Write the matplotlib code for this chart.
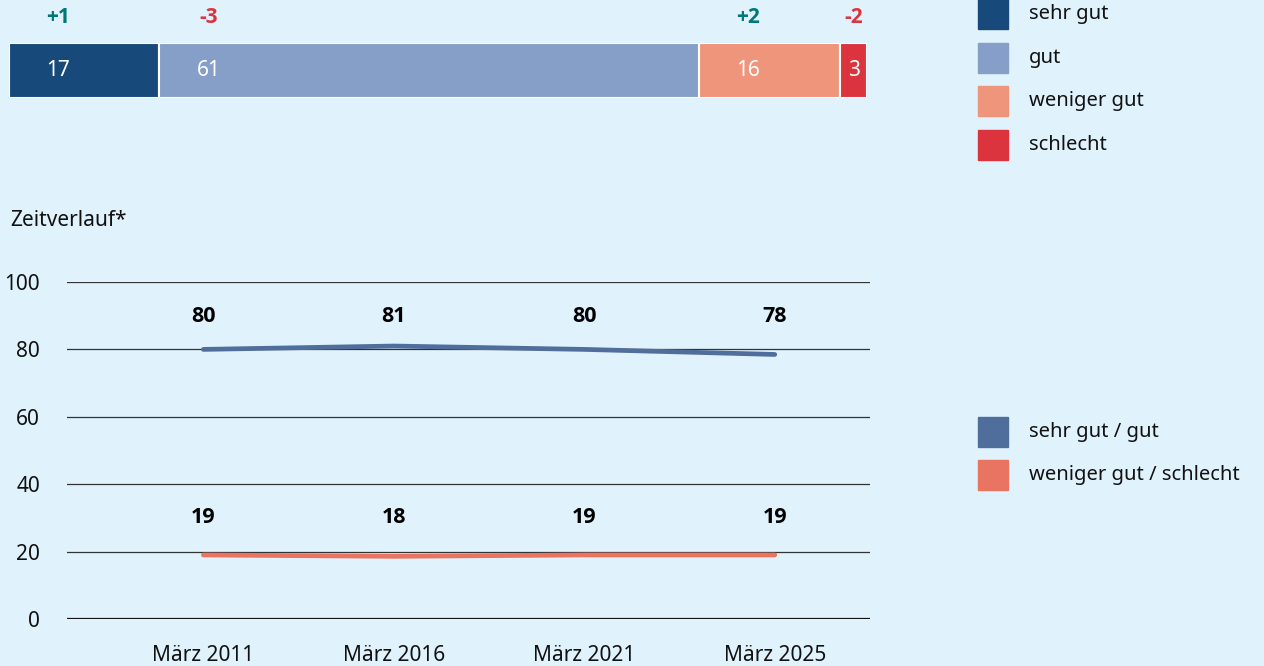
import matplotlib.pyplot as plt
from matplotlib.patches import Rectangle

plt.rcParams['font.family'] = ['Noto Sans', 'DejaVu Sans']
BOLD = ['Open Sans', 'Lato', 'DejaVu Sans']

# Daten
kategorien = ['sehr gut', 'gut', 'weniger gut', 'schlecht']
werte = [17, 61, 16, 3]
veraenderung = ['+1', '-3', '+2', '-2']
farben = ['#174A7A', '#859FC8', '#EE957B', '#DC343E']

jahre = ['März 2011', 'März 2016', 'März 2021', 'März 2025']
gut_gesamt = [80, 81, 80, 78.5]
schlecht_gesamt = [19, 18.6, 19, 19]
gut_labels = ['80', '81', '80', '78']
schlecht_labels = ['19', '18', '19', '19']
linien_namen = ['sehr gut / gut', 'weniger gut / schlecht']
linien_farben = ['#4F6E9B', '#E87461']

bg = '#E0F2FC'
W, H = 1264, 666
fig = plt.figure(figsize=(W / 100, H / 100), dpi=100)
fig.patch.set_facecolor(bg)

def ax_px(x0, y0, x1, y1):
    # Achse in Pixelkoordinaten (oben links = 0,0)
    return fig.add_axes([x0 / W, (H - y1) / H, (x1 - x0) / W, (y1 - y0) / H])

# Gestapelter Balken
ax1 = ax_px(9, 43, 867, 98)
ax1.set_facecolor('none')
links = 0
for wert, farbe, ver in zip(werte, farben, veraenderung):
    ax1.barh(0, wert, left=links, height=1, color=farbe, edgecolor='white', linewidth=1.5)
    pos = links + min(5.6, wert / 2)
    ax1.text(pos, 0, str(wert), color='white', fontsize=15, ha='center', va='center')
    vfarbe = '#00787A' if ver.startswith('+') else '#DC343E'
    ax1.text(pos, 0.96, ver, color=vfarbe, fontsize=15, fontweight='bold', family=BOLD,
             ha='center', va='center', clip_on=False)
    links += wert
ax1.set_xlim(0, sum(werte))
ax1.set_ylim(-0.5, 0.5)
ax1.axis('off')

# Legende oben
for i, (name, farbe) in enumerate(zip(kategorien, farben)):
    y = 14 + i * 43.5
    fig.patches.append(Rectangle((978 / W, (H - y - 15) / H), 30 / W, 30 / H,
                                 transform=fig.transFigure, color=farbe))
    fig.text(1029 / W, (H - y) / H, name, fontsize=14.5, va='center', color='#111111')

fig.text(10 / W, (H - 220) / H, 'Zeitverlauf*', fontsize=15, va='center', color='#111111')

# Liniendiagramm
ax2 = ax_px(67, 282, 870, 619)
ax2.set_facecolor('none')
x = list(range(len(jahre)))
ax2.set_ylim(0, 100)
ax2.set_xlim(-0.716, 3.5)
for yv in [20, 40, 60, 80, 100]:
    ax2.axhline(yv, color='#333333', linewidth=0.9, zorder=1)
ax2.axhline(0, color='#111111', linewidth=1.6, zorder=1)
ax2.plot(x, gut_gesamt, color=linien_farben[0], linewidth=3.4, solid_capstyle='round', zorder=3)
ax2.plot(x, schlecht_gesamt, color=linien_farben[1], linewidth=3.4, solid_capstyle='round', zorder=3)
for xi, gl, sl in zip(x, gut_labels, schlecht_labels):
    ax2.text(xi, 89.8, gl, fontsize=15.5, fontweight='bold', family=BOLD, ha='center', va='center')
    ax2.text(xi, 30.2, sl, fontsize=15.5, fontweight='bold', family=BOLD, ha='center', va='center')
for s in ax2.spines.values():
    s.set_visible(False)
ax2.set_yticks([0, 20, 40, 60, 80, 100])
ax2.set_xticks(x)
ax2.set_xticklabels(jahre)
ax2.tick_params(length=0, labelsize=15, colors='#111111')
ax2.tick_params(axis='y', pad=19.5)
ax2.tick_params(axis='x', pad=19)

# Legende unten
for i, (name, farbe) in enumerate(zip(linien_namen, linien_farben)):
    y = 432 + i * 43
    fig.patches.append(Rectangle((978 / W, (H - y - 15) / H), 30 / W, 30 / H,
                                 transform=fig.transFigure, color=farbe))
    fig.text(1029 / W, (H - y) / H, name, fontsize=14.5, va='center', color='#111111')

fig.savefig('out.png', dpi=100, facecolor=bg)
